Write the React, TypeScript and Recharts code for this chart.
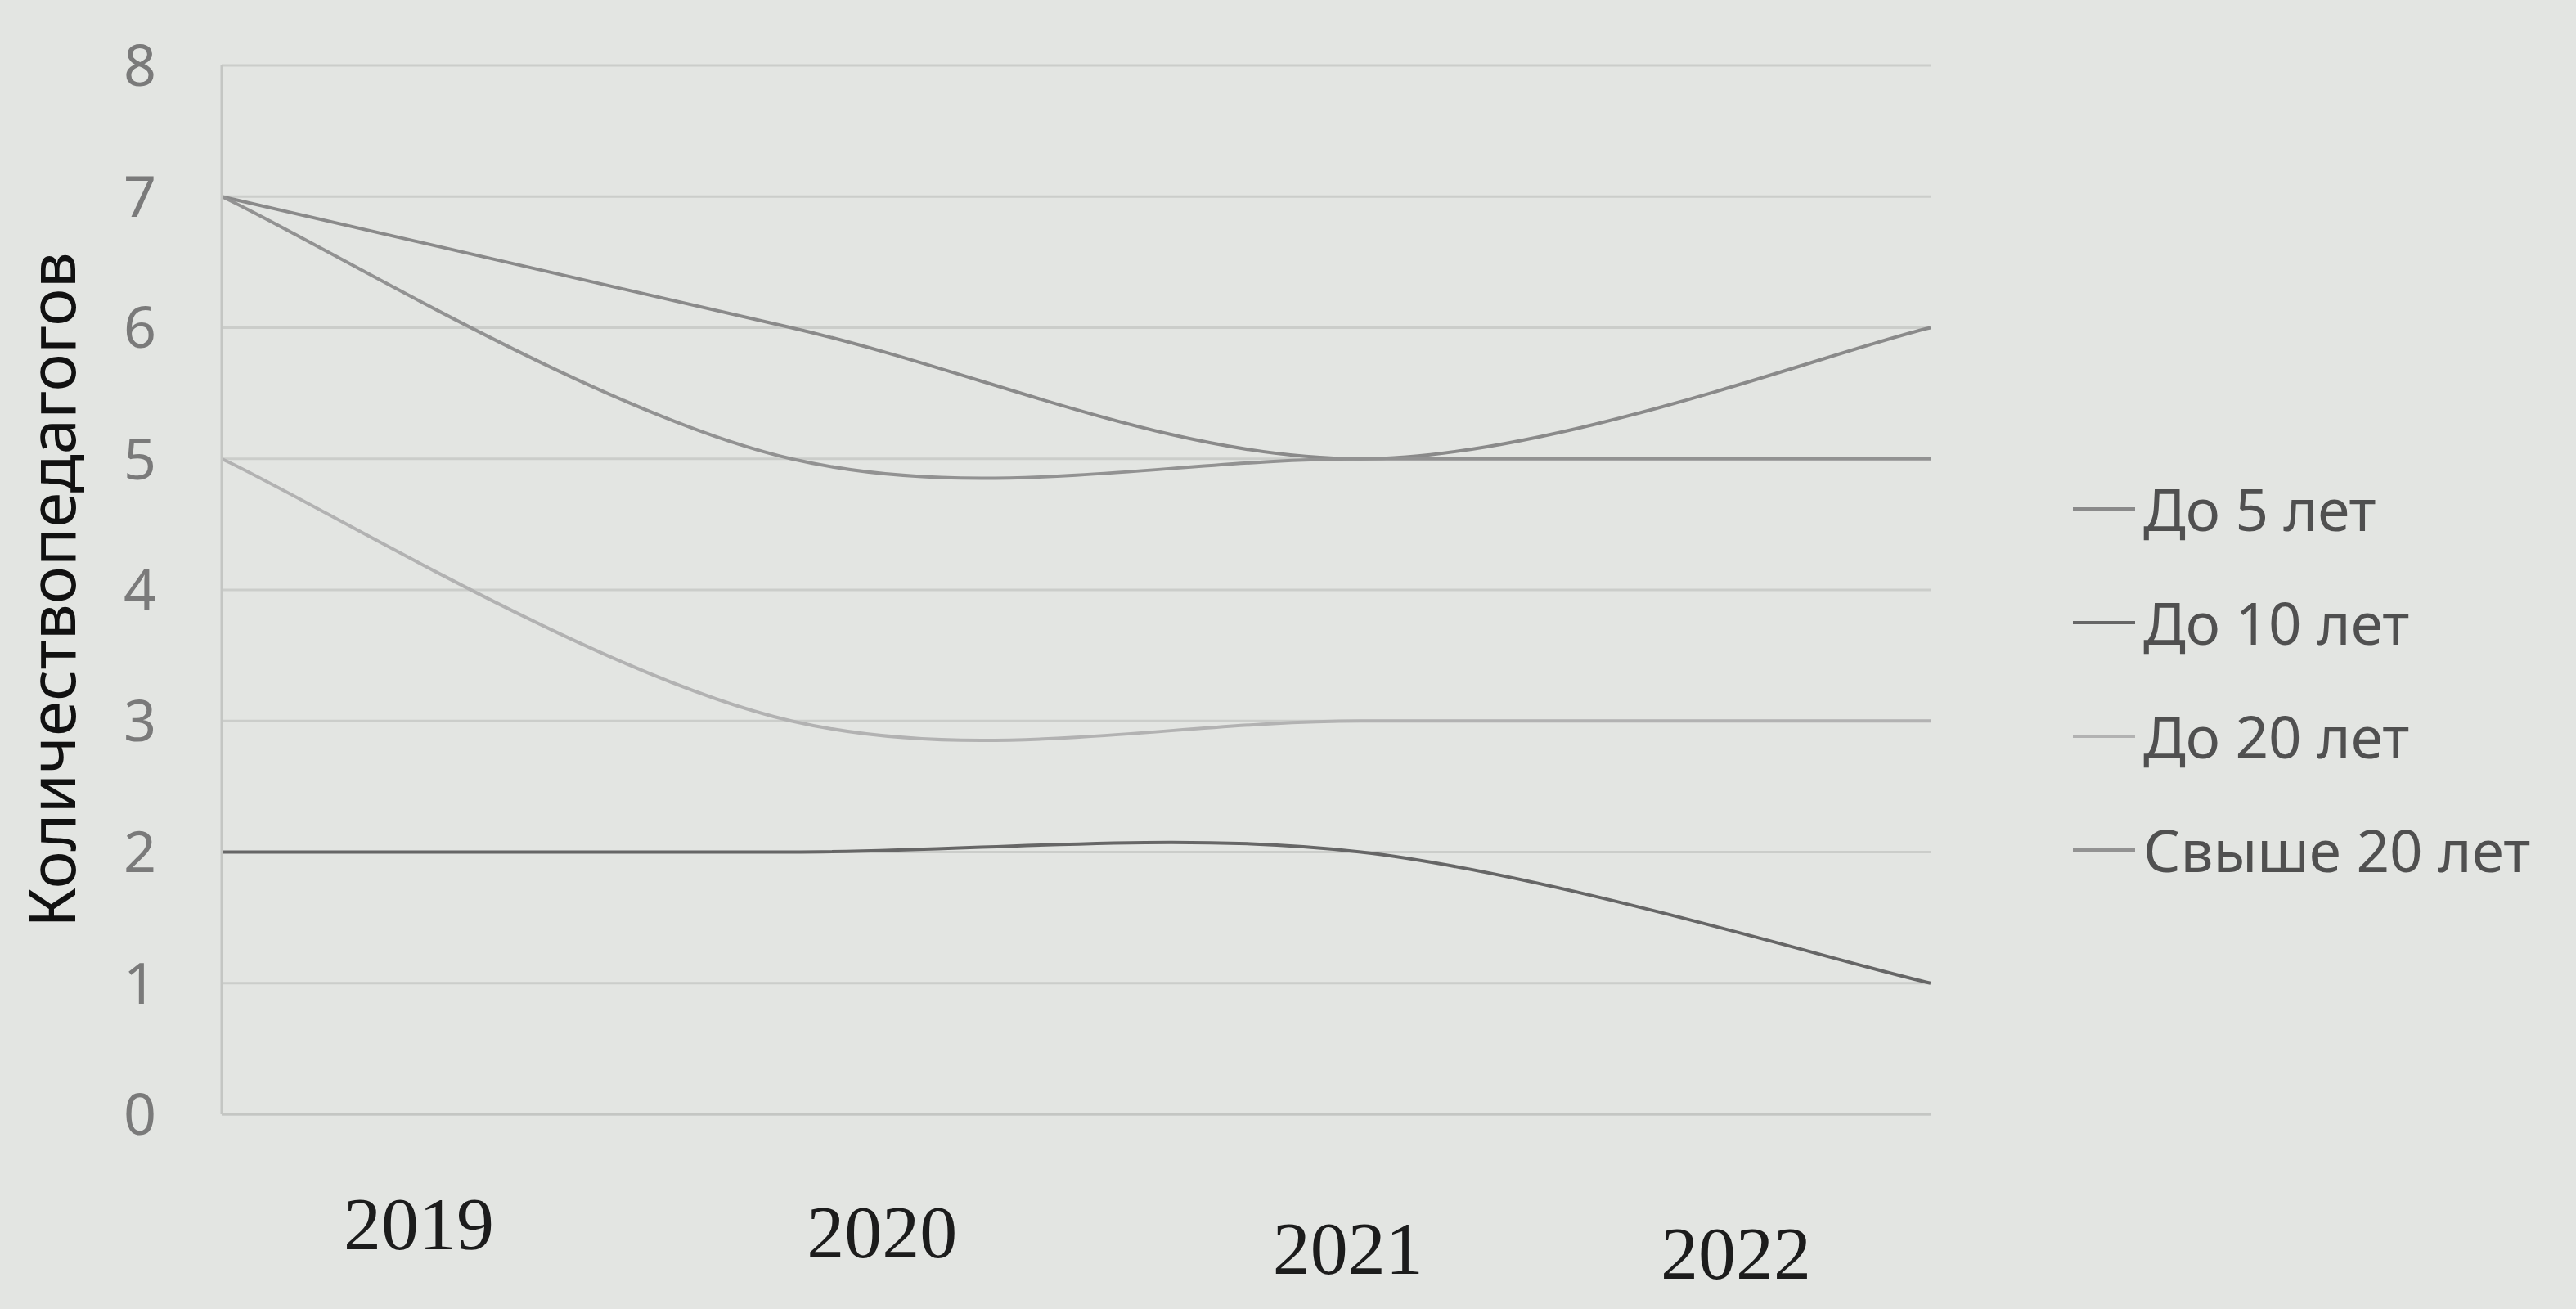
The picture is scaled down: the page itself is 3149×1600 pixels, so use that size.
import { CartesianGrid, Legend, Line, LineChart, XAxis, YAxis } from "recharts";

const years = ["2019", "2020", "2021", "2022"];
const upTo5 = [7, 6, 5, 6];
const upTo10 = [2, 2, 2, 1];
const upTo20 = [5, 3, 3, 3];
const over20 = [7, 5, 5, 5];
const yTicks = [0, 1, 2, 3, 4, 5, 6, 7, 8];
const seriesOrder = ["upTo5", "upTo10", "upTo20", "over20"];

const data = years.map((year, i) => ({
  year,
  upTo5: upTo5[i],
  upTo10: upTo10[i],
  upTo20: upTo20[i],
  over20: over20[i],
}));

// Excel-like smoothed line (Catmull-Rom through the points)
const smoothCurve = (context: any) => {
  let pts: number[][] = [];
  return {
    areaStart() {},
    areaEnd() {},
    lineStart() {
      pts = [];
    },
    point(x: number, y: number) {
      pts.push([+x, +y]);
    },
    lineEnd() {
      if (!pts.length) return;
      context.moveTo(pts[0][0], pts[0][1]);
      for (let i = 0; i < pts.length - 1; i++) {
        const p0 = pts[Math.max(i - 1, 0)];
        const p1 = pts[i];
        const p2 = pts[i + 1];
        const p3 = pts[Math.min(i + 2, pts.length - 1)];
        context.bezierCurveTo(
          p1[0] + (p2[0] - p0[0]) / 6,
          p1[1] + (p2[1] - p0[1]) / 6,
          p2[0] - (p3[0] - p1[0]) / 6,
          p2[1] - (p3[1] - p1[1]) / 6,
          p2[0],
          p2[1],
        );
      }
    },
  };
};

const labelShift = [
  { dx: 241, dy: 134 },
  { dx: 111, dy: 144 },
  { dx: -16, dy: 164 },
  { dx: -238, dy: 170 },
];

function YearTick({ x, y, payload, index }: any) {
  const s = labelShift[index] ?? { dx: 0, dy: 140 };
  return (
    <text
      x={x + s.dx}
      y={y + s.dy}
      textAnchor="middle"
      dominantBaseline="central"
      fontFamily="'Liberation Serif', serif"
      fontSize={92}
      fill="#1c1c1c"
    >
      {payload.value}
    </text>
  );
}

function AxisTitle({ viewBox }: any) {
  const cy = viewBox ? viewBox.y + viewBox.height / 2 : 736;
  return (
    <text
      x={62}
      y={cy}
      transform={`rotate(-90, 62, ${cy})`}
      textAnchor="middle"
      dominantBaseline="central"
      fontFamily="'Noto Sans', sans-serif"
      fontSize={78}
      fill="#111"
    >
      Количествопедагогов
    </text>
  );
}

function LegendBox({ payload }: any) {
  const items = [...(payload ?? [])].sort(
    (a: any, b: any) => seriesOrder.indexOf(a.dataKey) - seriesOrder.indexOf(b.dataKey),
  );
  return (
    <div>
      {items.map((p: any) => (
        <div key={p.value} style={{ display: "flex", alignItems: "center", height: 139 }}>
          <span style={{ width: 76, height: 4, background: p.color, display: "inline-block" }} />
          <span
            style={{
              marginLeft: 10,
              fontFamily: "'Noto Sans', sans-serif",
              fontSize: 71,
              color: "#505050",
              whiteSpace: "nowrap",
            }}
          >
            {p.value}
          </span>
        </div>
      ))}
    </div>
  );
}

export default function App() {
  return (
    <div style={{ width: 3149, height: 1600, background: "#e3e5e2" }}>
      <style>{`body{margin:0;background:#e3e5e2}`}</style>
      <LineChart
        width={3149}
        height={1600}
        data={data}
        margin={{ top: 80, right: 789, bottom: 208, left: 0 }}
      >
        <CartesianGrid vertical={false} stroke="#cbcdca" strokeWidth={3} />
        <XAxis
          dataKey="year"
          tick={<YearTick />}
          tickLine={false}
          tickSize={0}
          tickMargin={0}
          axisLine={{ stroke: "#c4c6c3", strokeWidth: 3 }}
          interval={0}
        />
        <YAxis
          width={271}
          domain={[0, 8]}
          ticks={yTicks}
          tickLine={false}
          tickSize={0}
          tickMargin={80}
          axisLine={{ stroke: "#c4c6c3", strokeWidth: 3 }}
          tick={{ fontFamily: "'Noto Sans', sans-serif", fontSize: 70, fill: "#7a7a7a" }}
          label={<AxisTitle />}
        />
        <Legend
          layout="vertical"
          align="center"
          verticalAlign="middle"
          content={<LegendBox />}
          wrapperStyle={{ left: 2534, top: 552, width: 600 }}
        />
        <Line dataKey="upTo5" name="До 5 лет" type={smoothCurve as any} stroke="#8a8a8a" strokeWidth={4} dot={false} isAnimationActive={false} />
        <Line dataKey="upTo10" name="До 10 лет" type={smoothCurve as any} stroke="#666666" strokeWidth={4} dot={false} isAnimationActive={false} />
        <Line dataKey="upTo20" name="До 20 лет" type={smoothCurve as any} stroke="#b2b2b2" strokeWidth={4} dot={false} isAnimationActive={false} />
        <Line dataKey="over20" name="Свыше 20 лет" type={smoothCurve as any} stroke="#929292" strokeWidth={4} dot={false} isAnimationActive={false} />
      </LineChart>
    </div>
  );
}
